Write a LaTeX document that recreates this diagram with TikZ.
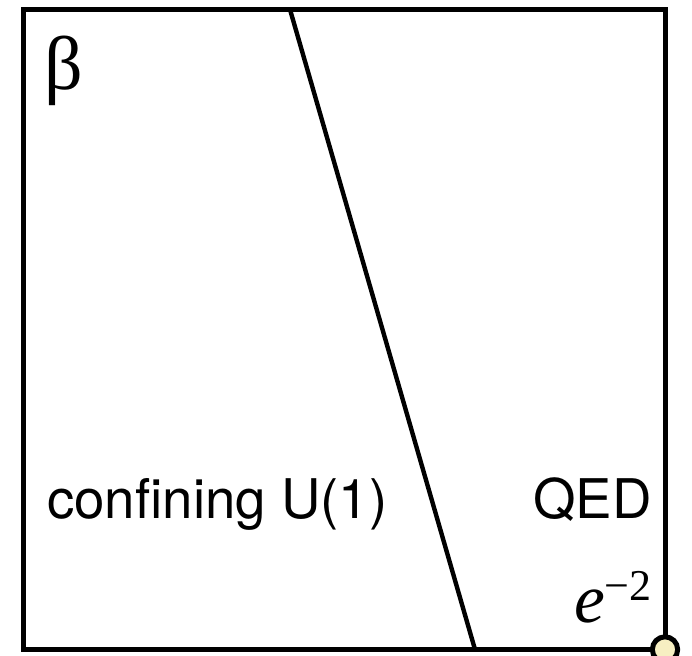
\documentclass[tikz,border=0pt]{standalone}
\usepackage{fontspec}
\setmainfont{Liberation Serif}
\setsansfont{TeX Gyre Heros}
\usetikzlibrary{positioning, calc}

\definecolor{dotfill}{HTML}{F7EFC2}

\begin{document}
\begin{tikzpicture}[
    x=0.75pt, y=-0.75pt,
    % --- Styles ---
    frame/.style={draw=black, line width=3.75pt},
    boundary/.style={draw=black, line width=3.3pt},
    phase_label/.style={font=\sffamily\fontsize{41}{41}\selectfont, inner sep=0pt},
    axis_label/.style={font=\fontsize{#1}{#1}\selectfont, inner sep=0pt},
    fixed_point/.style={circle, draw=black, line width=3.75pt, fill=dotfill, minimum size=19pt, inner sep=0pt},
]
    \useasboundingbox (0,0) rectangle (692,656);

    % ==========================
    % 1. FRAME
    % ==========================
    \coordinate (nw) at (23,9.5);
    \coordinate (se) at (665,649.5);
    \draw[frame] (nw) rectangle (se);

    % ==========================
    % 2. PHASE BOUNDARY
    % ==========================
    \coordinate (bnd_top) at (290,9.5);
    \coordinate (bnd_bot) at (475,649.5);
    \draw[boundary] (bnd_top) -- (bnd_bot);

    % ==========================
    % 3. LABELS
    % ==========================
    \node[axis_label=57, anchor=north west] (beta) at (44,36) {β};
    \node[phase_label, anchor=base west] (conf) at (47,518) {confining U(1)};
    \node[phase_label, anchor=base east] (qed) at (652,518) {QED};
    \node[axis_label=52, anchor=base east] (coupling) at (652,622)
        {\itshape e\upshape\raisebox{16pt}{\fontsize{33}{33}\selectfont −2}};

    % free corner point
    \node[fixed_point] (corner) at (se) {};

\end{tikzpicture}
\end{document}
